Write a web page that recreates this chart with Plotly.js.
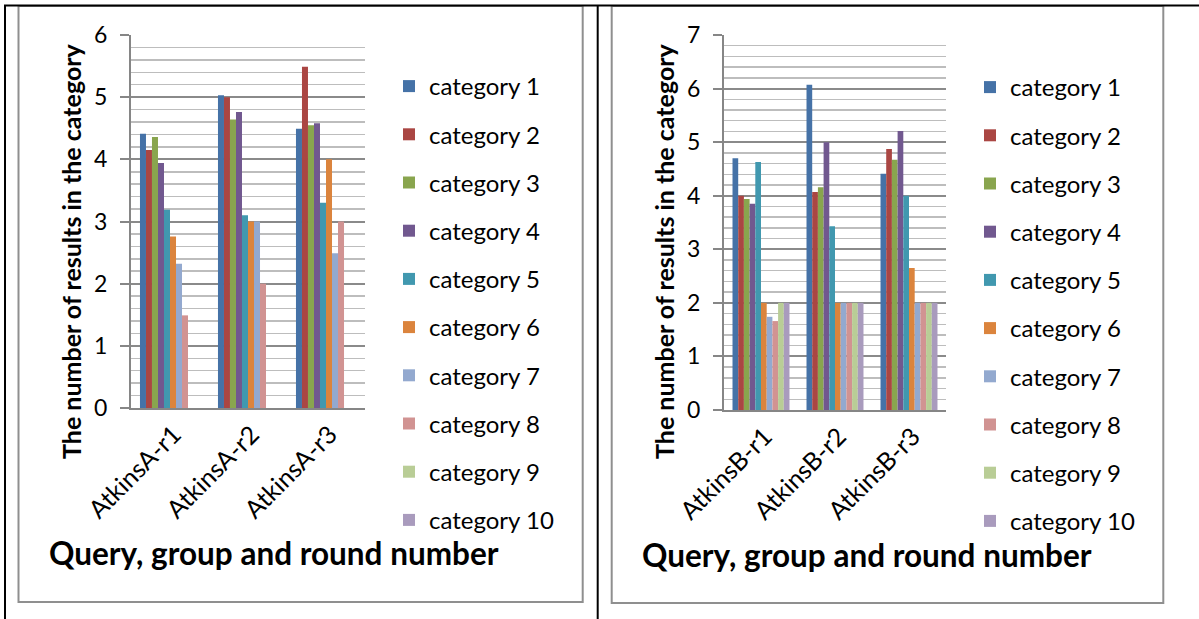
<!DOCTYPE html>
<html>
<head>
<meta charset="utf-8">
<script src="https://cdn.plot.ly/plotly-3.0.1.min.js"></script>
<style>
  html, body { margin: 0; padding: 0; background: #fff; }
  #chart { width: 1199px; height: 619px; }
</style>
</head>
<body>
<div id="chart"></div>
<script>
// Query rounds on the x axis of each panel
const roundsA = ['AtkinsA-r1', 'AtkinsA-r2', 'AtkinsA-r3'];
const roundsB = ['AtkinsB-r1', 'AtkinsB-r2', 'AtkinsB-r3'];

const categoryNames = ['category 1', 'category 2', 'category 3', 'category 4', 'category 5',
                       'category 6', 'category 7', 'category 8', 'category 9', 'category 10'];

// Group A: number of results per category, one value per round
const atkinsA_cat1  = [4.41, 5.03, 4.49];
const atkinsA_cat2  = [4.15, 5.00, 5.49];
const atkinsA_cat3  = [4.36, 4.64, 4.55];
const atkinsA_cat4  = [3.94, 4.76, 4.58];
const atkinsA_cat5  = [3.19, 3.10, 3.30];
const atkinsA_cat6  = [2.76, 3.00, 4.00];
const atkinsA_cat7  = [2.32, 3.00, 2.49];
const atkinsA_cat8  = [1.49, 2.00, 3.00];
const atkinsA_cat9  = [0, 0, 0];
const atkinsA_cat10 = [0, 0, 0];

// Group B
const atkinsB_cat1  = [4.70, 6.07, 4.41];
const atkinsB_cat2  = [4.00, 4.07, 4.87];
const atkinsB_cat3  = [3.94, 4.16, 4.67];
const atkinsB_cat4  = [3.85, 5.00, 5.21];
const atkinsB_cat5  = [4.63, 3.43, 4.00];
const atkinsB_cat6  = [2.00, 2.00, 2.65];
const atkinsB_cat7  = [1.74, 2.00, 2.00];
const atkinsB_cat8  = [1.66, 2.00, 2.00];
const atkinsB_cat9  = [2.00, 2.00, 2.00];
const atkinsB_cat10 = [2.00, 2.00, 2.00];

const seriesA = [atkinsA_cat1, atkinsA_cat2, atkinsA_cat3, atkinsA_cat4, atkinsA_cat5,
                 atkinsA_cat6, atkinsA_cat7, atkinsA_cat8, atkinsA_cat9, atkinsA_cat10];
const seriesB = [atkinsB_cat1, atkinsB_cat2, atkinsB_cat3, atkinsB_cat4, atkinsB_cat5,
                 atkinsB_cat6, atkinsB_cat7, atkinsB_cat8, atkinsB_cat9, atkinsB_cat10];

const palette = ['#4572A7', '#AA4643', '#89A54E', '#71588F', '#4198AF',
                 '#DB843D', '#93A9CF', '#D19392', '#B9CD96', '#A99BBD'];

const W = 1199, H = 619;
const px = x => x / W;
const py = y => 1 - y / H;

const FONT = 'Lato, "Open Sans", sans-serif';
const GRID = '#8a8a8a', MINOR = '#bdbdbd', AXIS = '#868686';

const traces = [];
categoryNames.forEach((name, i) => {
  traces.push({
    type: 'bar', name: name, x: roundsA, y: seriesA[i],
    xaxis: 'x', yaxis: 'y', legend: 'legend', legendgroup: 'a' + i,
    marker: { color: palette[i] }, hoverinfo: 'x+y+name'
  });
});
categoryNames.forEach((name, i) => {
  traces.push({
    type: 'bar', name: name, x: roundsB, y: seriesB[i],
    xaxis: 'x2', yaxis: 'y2', legend: 'legend2', legendgroup: 'b' + i,
    marker: { color: palette[i] }, hoverinfo: 'x+y+name'
  });
});

function valueAxis(domainTop, domainBottom, top) {
  return {
    domain: [py(domainBottom), py(domainTop)],
    range: [0, top], dtick: 1, tick0: 0,
    showgrid: true, gridcolor: GRID, gridwidth: 2,
    minor: { dtick: 0.2, showgrid: true, gridcolor: MINOR, gridwidth: 1.5, ticks: '' },
    showline: true, linecolor: AXIS, linewidth: 2,
    ticks: 'outside', ticklen: 9, tickwidth: 2, tickcolor: AXIS,
    ticklabelstandoff: 8,
    zeroline: false,
    tickfont: { family: FONT, size: 23, color: '#000' },
    fixedrange: true
  };
}

function categoryAxis(left, right, anchor) {
  return {
    domain: [px(left), px(right)], anchor: anchor,
    showline: true, linecolor: AXIS, linewidth: 2,
    showgrid: false, ticks: '', tickangle: -45,
    ticklabelshift: 4,
    tickfont: { family: FONT, size: 25, color: '#000' },
    fixedrange: true
  };
}

const legendBase = {
  font: { family: FONT, size: 24, color: '#000' },
  bgcolor: 'rgba(0,0,0,0)', borderwidth: 0,
  tracegroupgap: 14, traceorder: 'grouped',
  xanchor: 'left', yanchor: 'top'
};

const titleFont = size => ({ family: FONT, size: size, color: '#000', weight: 'bold' });

const layout = {
  width: W, height: H,
  margin: { l: 0, r: 0, t: 0, b: 0 },
  paper_bgcolor: '#fff', plot_bgcolor: '#fff',
  barmode: 'group', bargap: 0.23, bargroupgap: 0,
  showlegend: true,
  xaxis: categoryAxis(131, 365, 'y'),
  yaxis: valueAxis(35, 408, 6),
  xaxis2: categoryAxis(724, 946, 'y2'),
  yaxis2: Object.assign(valueAxis(35, 410, 7), { anchor: 'x2' }),
  legend: Object.assign({}, legendBase, { x: px(389), y: py(64) }),
  legend2: Object.assign({}, legendBase, { x: px(970), y: py(65) }),
  annotations: [
    { text: 'The number of results in the category', textangle: -90,
      xref: 'paper', yref: 'paper', x: px(71), y: py(251), xanchor: 'center', yanchor: 'middle',
      showarrow: false, font: titleFont(25) },
    { text: 'Query, group and round number',
      xref: 'paper', yref: 'paper', x: px(274), y: py(553), xanchor: 'center', yanchor: 'middle',
      showarrow: false, font: titleFont(31.5) },
    { text: 'The number of results in the category', textangle: -90,
      xref: 'paper', yref: 'paper', x: px(664), y: py(251), xanchor: 'center', yanchor: 'middle',
      showarrow: false, font: titleFont(25) },
    { text: 'Query, group and round number',
      xref: 'paper', yref: 'paper', x: px(867), y: py(555), xanchor: 'center', yanchor: 'middle',
      showarrow: false, font: titleFont(31.5) }
  ],
  shapes: [
    // chart frames
    { type: 'rect', xref: 'paper', yref: 'paper', x0: px(18.5), x1: px(582.7), y0: py(602), y1: py(6),
      line: { color: '#8f8f8f', width: 2 } },
    { type: 'rect', xref: 'paper', yref: 'paper', x0: px(611.7), x1: px(1163.3), y0: py(603), y1: py(6),
      line: { color: '#8f8f8f', width: 2 } },
    // page table rules
    { type: 'line', xref: 'paper', yref: 'paper', x0: px(4), x1: px(1199), y0: py(5.5), y1: py(5.5),
      line: { color: '#000', width: 2 } },
    { type: 'line', xref: 'paper', yref: 'paper', x0: px(5), x1: px(5), y0: py(5), y1: py(619),
      line: { color: '#000', width: 2 } },
    { type: 'line', xref: 'paper', yref: 'paper', x0: px(597.7), x1: px(597.7), y0: py(5), y1: py(619),
      line: { color: '#000', width: 2 } }
  ]
};

Plotly.newPlot('chart', traces, layout, { displayModeBar: false, staticPlot: true }).then(gd => {
  // larger legend swatches, placed closer to their labels
  gd.querySelectorAll('.legendpoints path.legendbar').forEach(p => {
    p.setAttribute('d', 'M7.5,7.5H-7.5V-7.5H7.5Z');
    p.setAttribute('transform', 'translate(32.5,0)');
  });
});
</script>
</body>
</html>
